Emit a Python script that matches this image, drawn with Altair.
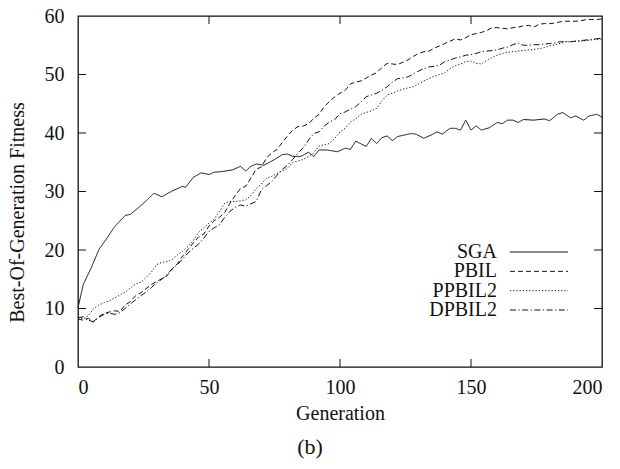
import altair as alt
import pandas as pd

series_names = ["SGA", "PBIL", "PPBIL2", "DPBIL2"]
x_ticks = [0, 50, 100, 150, 200]
y_ticks = [0, 10, 20, 30, 40, 50, 60]

sga_gen = [0, 2, 5, 8, 11, 14, 18, 20, 23, 26, 29, 32, 36, 40, 41, 44, 47, 50, 52, 55,
           59, 62, 64, 66, 68, 71, 74, 78, 80, 82, 85, 88, 90, 92, 95, 99, 102, 104, 106, 110,
           112, 114, 116, 118, 120, 122, 127, 129, 132, 135, 137, 139, 142, 144, 146, 148, 150, 152, 154, 157,
           160, 162, 164, 166, 168, 170, 174, 178, 180, 183, 185, 188, 190, 193, 195, 198, 200]
sga_fit = [10.1, 14.1, 16.9, 20.1, 22.0, 24.0, 25.9, 26.1, 27.2, 28.4, 29.7, 29.1, 30.1, 30.9, 30.7, 32.4, 33.2, 32.9, 33.3, 33.4,
           33.7, 34.3, 33.5, 34.3, 34.7, 34.5, 35.2, 36.3, 36.4, 36.0, 36.0, 36.7, 36.0, 37.1, 37.1, 36.8, 37.4, 37.2, 38.6, 37.7,
           39.1, 38.2, 39.2, 39.5, 38.7, 39.4, 39.9, 39.8, 39.1, 39.7, 40.2, 39.8, 40.8, 40.8, 40.5, 42.2, 40.5, 41.2, 40.5, 40.9,
           41.8, 41.6, 42.2, 42.2, 41.8, 42.3, 42.2, 42.4, 42.1, 43.2, 43.5, 42.6, 42.9, 42.2, 42.9, 43.2, 42.7]

gen2 = list(range(0, 201, 2))

pbil_fit = [8.2, 8.0, 8.3, 7.8, 8.6, 9.2, 9.4, 9.6, 9.5, 10.6,
            11.2, 12.2, 12.7, 13.4, 14.1, 14.6, 15.1, 15.6, 16.8, 17.7,
            19.0, 20.1, 21.2, 22.2, 22.7, 24.1, 25.0, 25.6, 26.4, 28.0,
            29.3, 30.5, 30.9, 32.3, 33.8, 34.2, 35.8, 36.6, 37.2, 38.4,
            39.5, 40.5, 41.1, 41.2, 41.6, 42.5, 43.2, 44.5, 45.4, 46.2,
            46.8, 47.3, 48.4, 48.7, 48.9, 49.4, 49.9, 50.3, 51.2, 51.9,
            51.8, 51.7, 52.1, 52.5, 53.1, 53.6, 53.9, 54.0, 54.5, 54.9,
            55.3, 55.7, 56.1, 55.9, 56.3, 56.8, 57.0, 57.2, 57.5, 58.0,
            58.0, 57.9, 57.8, 58.0, 58.1, 58.3, 58.4, 58.1, 58.6, 58.7,
            58.7, 58.8, 59.0, 59.1, 59.1, 59.1, 59.2, 59.4, 59.4, 59.4,
            59.5]

ppbil2_fit = [8.5, 8.2, 8.8, 10.0, 10.6, 11.0, 11.3, 11.8, 12.3, 12.8,
              13.5, 14.2, 14.5, 15.3, 16.2, 17.5, 17.9, 18.0, 18.4, 19.2,
              19.8, 20.6, 21.6, 23.0, 23.8, 24.6, 25.3, 26.6, 28.0, 28.3,
              28.3, 28.4, 28.6, 29.3, 30.5, 31.3, 32.3, 32.6, 33.1, 33.5,
              34.0, 35.0, 35.2, 35.5, 36.0, 36.6, 37.8, 38.0, 38.2, 39.1,
              40.2, 40.8, 41.9, 42.4, 43.2, 43.5, 43.8, 44.2, 45.5, 46.5,
              46.8, 47.2, 47.5, 47.7, 47.9, 48.4, 48.9, 49.3, 49.7, 50.0,
              50.3, 51.0, 51.5, 51.8, 52.2, 52.3, 51.9, 51.8, 52.4, 52.9,
              53.3, 53.6, 53.8, 53.9, 54.0, 54.1, 54.2, 54.3, 54.4, 54.6,
              54.9, 55.1, 55.3, 55.6, 55.6, 55.7, 55.7, 55.8, 55.9, 56.0,
              56.1]

dpbil2_fit = [8.4, 8.6, 8.0, 7.7, 8.5, 9.0, 9.2, 9.0, 9.3, 10.0,
              10.8, 11.5, 12.2, 12.8, 13.6, 14.4, 15.0, 15.8, 16.8, 17.5,
              18.5, 19.5, 20.3, 21.0, 22.0, 23.2, 23.8, 24.3, 25.6, 26.6,
              27.3, 27.7, 27.5, 27.9, 28.3, 30.3, 31.0, 31.7, 32.8, 33.8,
              34.5, 35.5, 36.6, 37.5, 38.8, 39.9, 40.2, 41.2, 41.9, 42.3,
              43.3, 43.6, 44.1, 44.5, 45.3, 46.2, 46.5, 46.8, 47.3, 47.9,
              48.7, 49.3, 49.4, 49.6, 50.1, 50.6, 51.0, 51.3, 51.4, 51.6,
              52.2, 52.5, 52.8, 53.0, 53.3, 53.4, 53.6, 53.9, 54.0, 54.1,
              54.2, 54.5, 54.7, 55.1, 55.4, 55.0, 55.0, 55.1, 55.1, 55.2,
              55.3, 55.4, 55.6, 55.6, 55.6, 55.7, 55.8, 55.9, 56.0, 56.1,
              56.2]

rows = []
for g, v in zip(sga_gen, sga_fit):
    rows.append({"gen": g, "fit": v, "series": "SGA"})
for name, vals in [("PBIL", pbil_fit), ("PPBIL2", ppbil2_fit), ("DPBIL2", dpbil2_fit)]:
    for g, v in zip(gen2, vals):
        rows.append({"gen": g, "fit": v, "series": name})
df = pd.DataFrame(rows)

W, H = 524, 351
FONT = "Liberation Serif"
INK = "#111111"

dash_scale = alt.Scale(domain=series_names,
                       range=[[1, 0], [5, 3], [1.2, 2], [6, 2.5, 1.2, 2.5]])
x_scale = alt.Scale(domain=[0, 200], nice=False, zero=False)
y_scale = alt.Scale(domain=[0, 60], nice=False)
x_axis = alt.Axis(values=x_ticks, title="Generation", ticks=False, domain=False,
                  grid=False, labelPadding=10, titlePadding=6)

lines = alt.Chart(df).mark_line(strokeWidth=1, color=INK).encode(
    x=alt.X("gen:Q", scale=x_scale, axis=x_axis),
    y=alt.Y("fit:Q", scale=y_scale,
            axis=alt.Axis(values=y_ticks, title="Best-Of-Generation Fitness", ticks=False,
                          domain=False, grid=False, labelPadding=14,
                          titleX=-51, titleY=196)),
    strokeDash=alt.StrokeDash("series:N", scale=dash_scale, legend=None),
    detail="series:N",
    order="gen:Q",
)

ytdf = pd.DataFrame({"v": y_ticks[1:-1]})
xtdf = pd.DataFrame({"gen": x_ticks[1:-1]})

ytick_left = alt.Chart(ytdf).mark_rule(color=INK, strokeWidth=1).encode(
    y=alt.Y("v:Q", scale=y_scale, axis=None), x=alt.value(0), x2=alt.value(8))
ytick_right = alt.Chart(ytdf).mark_rule(color=INK, strokeWidth=1).encode(
    y=alt.Y("v:Q", scale=y_scale, axis=None), x=alt.value(W - 8), x2=alt.value(W))
xtick_bot = alt.Chart(xtdf).mark_rule(color=INK, strokeWidth=1).encode(
    x=alt.X("gen:Q", scale=x_scale, axis=x_axis), y=alt.value(H), y2=alt.value(H - 8))
xtick_top = alt.Chart(xtdf).mark_rule(color=INK, strokeWidth=1).encode(
    x=alt.X("gen:Q", scale=x_scale, axis=x_axis), y=alt.value(0), y2=alt.value(8))

leg_df = pd.DataFrame({"series": series_names, "row": [0, 1, 2, 3]})
leg_y = alt.Y("row:Q", scale=alt.Scale(domain=[0, 3], range=[236, 294]), axis=None)
leg_text = alt.Chart(leg_df).mark_text(align="right", baseline="middle", font=FONT,
                                       fontSize=20, color=INK).encode(
    x=alt.value(419), y=leg_y, text="series:N")
leg_line = alt.Chart(leg_df).mark_rule(strokeWidth=1, color=INK).encode(
    x=alt.value(432), x2=alt.value(490), y=leg_y,
    strokeDash=alt.StrokeDash("series:N", scale=dash_scale, legend=None))

chart = alt.layer(
    lines, ytick_left, ytick_right, xtick_bot, xtick_top, leg_line, leg_text
).resolve_scale(y="independent").properties(
    width=W, height=H,
    autosize=alt.AutoSizeParams(type="none"),
    padding={"left": 70, "top": 8, "right": 10, "bottom": 94},
    title=alt.TitleParams(text="(b)", orient="bottom", anchor="middle", dx=-30, offset=14,
                          font=FONT, fontSize=22, fontWeight="normal", color=INK),
).configure_view(stroke=INK, strokeWidth=1.3).configure_axis(
    labelFont=FONT, labelFontSize=20, labelColor=INK,
    titleFont=FONT, titleFontSize=20, titleFontWeight="normal", titleColor=INK,
)

chart.save("out.html", embed_options={"renderer": "svg", "actions": False})
